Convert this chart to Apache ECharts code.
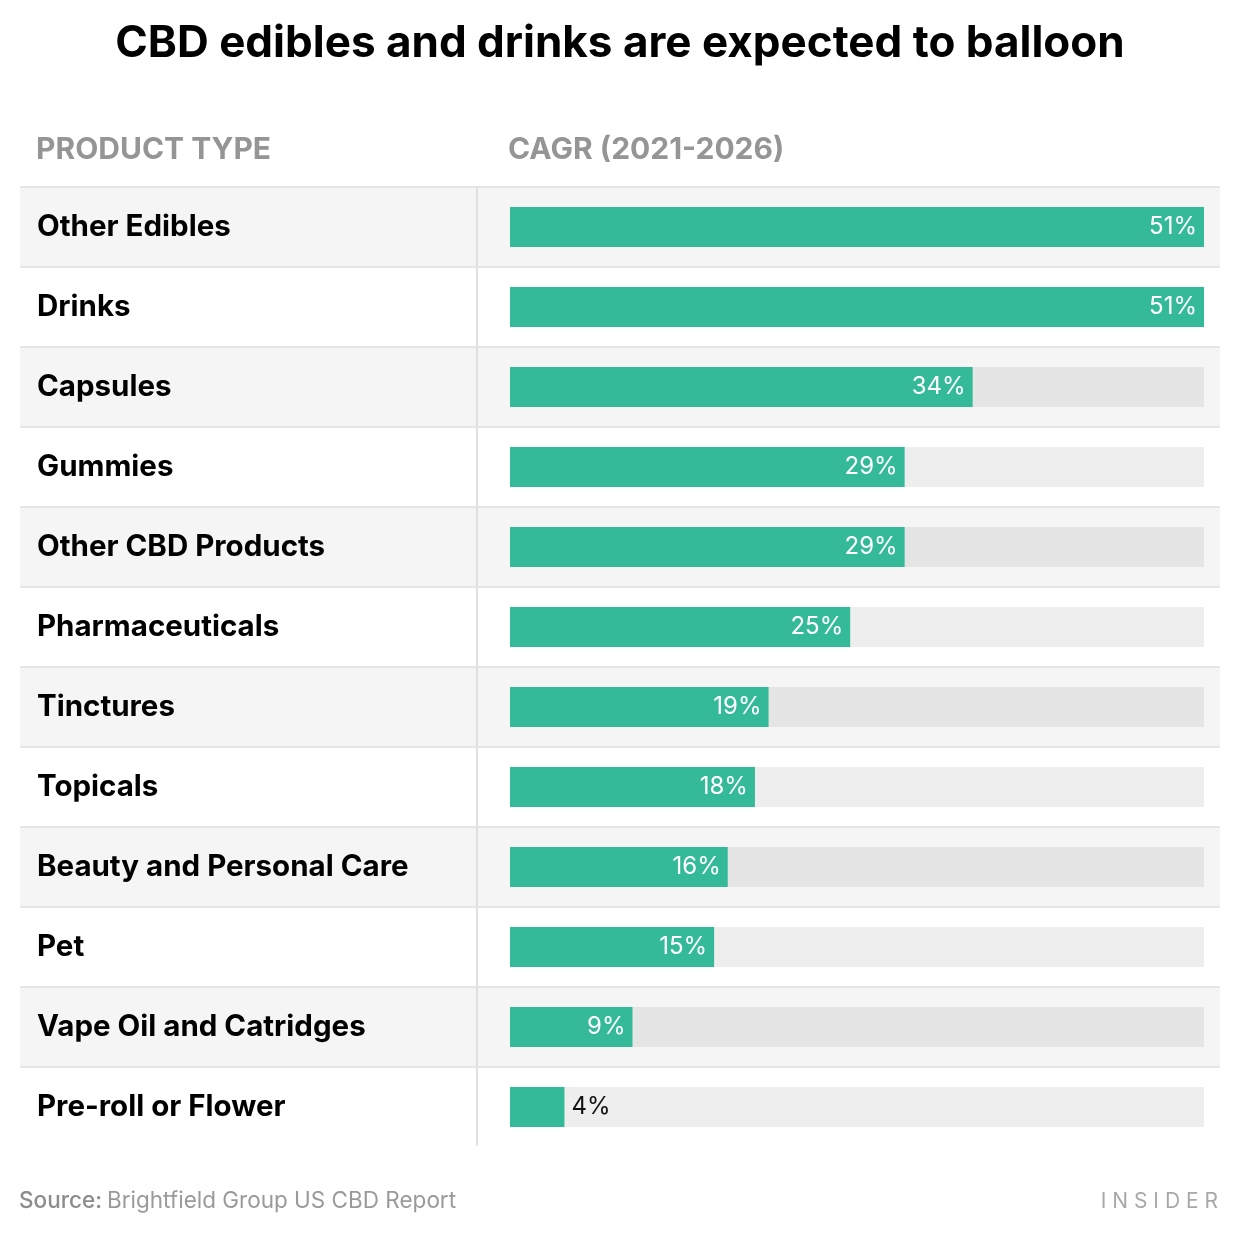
<!DOCTYPE html>
<html>
<head>
<meta charset="utf-8">
<script src="https://cdn.jsdelivr.net/npm/echarts@6/dist/echarts.min.js"></script>
<style>
html,body{margin:0;padding:0;background:#fff;}
#chart{width:1240px;height:1236px;}
</style>
</head>
<body>
<div id="chart"></div>
<script>
const categories = ["Other Edibles","Drinks","Capsules","Gummies","Other CBD Products","Pharmaceuticals","Tinctures","Topicals","Beauty and Personal Care","Pet","Vape Oil and Catridges","Pre-roll or Flower"];
const cagrValues = [51,51,34,29,29,25,19,18,16,15,9,4];
const axisMax = 51;

const chart = echarts.init(document.getElementById('chart'), null, {renderer:'canvas'});
const FONT = 'Inter, "Noto Sans", sans-serif';
const GREEN = '#34ba98';

const trackData = categories.map((c, i) => ({
  value: axisMax,
  itemStyle: {color: i % 2 === 0 ? '#e5e5e5' : '#eeeeee'}
}));
const barData = cagrValues.map(v => {
  const small = v < 6;
  return {
    value: v,
    label: small ? {position:'right', color:'#111', distance:7} : {position:'insideRight', color:'#fff', distance:7}
  };
});

chart.setOption({
  animation: false,
  backgroundColor: '#fff',
  title: [
    {text:'CBD edibles and drinks are expected to balloon', left:'center', top:22, padding:0,
     textStyle:{fontFamily:FONT, fontSize:44, fontWeight:'bold', color:'#000'}},
    {text:'PRODUCT TYPE', left:36, top:135, padding:0,
     textStyle:{fontFamily:FONT, fontSize:30, fontWeight:'bold', color:'#959595'}},
    {text:'CAGR (2021-2026)', left:508, top:135, padding:0,
     textStyle:{fontFamily:FONT, fontSize:30, fontWeight:'bold', color:'#959595'}},
    {text:'{a|Source:} {b|Brightfield Group US CBD Report}', left:19, top:1190, padding:0,
     textStyle:{rich:{
       a:{fontFamily:FONT, fontSize:22.5, fontWeight:500, color:'#8c8c8c'},
       b:{fontFamily:FONT, fontSize:22.5, fontWeight:'normal', color:'#9a9a9a'}
     }}},
    {text:'I N S I D E R', right:22, top:1191, padding:0,
     textStyle:{fontFamily:FONT, fontSize:21, fontWeight:'normal', color:'#a8a8a8'}}
  ],
  grid: [
    {left:510, top:187, width:694, height:960},
    {left:20, top:187, width:1200, height:960},
    {left:477, top:187, width:1, height:958}
  ],
  xAxis: [
    {gridIndex:0, type:'value', min:0, max:axisMax, show:false},
    {gridIndex:1, type:'value', min:0, max:1, show:false},
    {gridIndex:2, type:'value', min:0, max:1, show:false}
  ],
  yAxis: [
    {gridIndex:0, type:'category', data:categories, inverse:true, show:false},
    {gridIndex:1, type:'category', data:categories, inverse:true, z:5,
     axisLine:{show:false}, axisTick:{show:false}, splitLine:{show:false},
     axisLabel:{inside:true, margin:17, fontFamily:FONT, fontSize:29.5, fontWeight:'bold', color:'#000',
                verticalAlign:'middle', padding:[0,0,4,0]}},
    {gridIndex:2, type:'category', data:categories, inverse:true, z:5,
     axisLine:{show:true, lineStyle:{color:'#e0e0e0', width:2}},
     axisTick:{show:false}, axisLabel:{show:false}, splitLine:{show:false}}
  ],
  series: [
    {
      type:'custom', xAxisIndex:1, yAxisIndex:1, z:0, silent:true,
      data: categories.map((c, i) => [0, i]),
      renderItem: function(params, api){
        const idx = api.value(1);
        const cs = params.coordSys;
        const cy = api.coord([0, idx])[1];
        const band = api.size([0, 1])[1];
        return {
          type:'group',
          children:[
            {type:'rect', shape:{x:cs.x, y:cy-band/2, width:cs.width, height:band},
             style:{fill: idx % 2 === 0 ? '#f5f5f5' : '#ffffff'}},
            {type:'rect', shape:{x:cs.x, y:cy-band/2-1, width:cs.width, height:2},
             style:{fill:'#e5e5e5'}}
          ]
        };
      }
    },
    {
      type:'bar', xAxisIndex:0, yAxisIndex:0, data:trackData, barWidth:40, barGap:'-100%',
      silent:true, z:2
    },
    {
      type:'bar', xAxisIndex:0, yAxisIndex:0, data:barData, barWidth:40, barGap:'-100%', z:3,
      itemStyle:{color:GREEN},
      label:{show:true, formatter:'{c}%', fontFamily:FONT, fontSize:24, fontWeight:'normal'}
    }
  ]
});
</script>
</body>
</html>
